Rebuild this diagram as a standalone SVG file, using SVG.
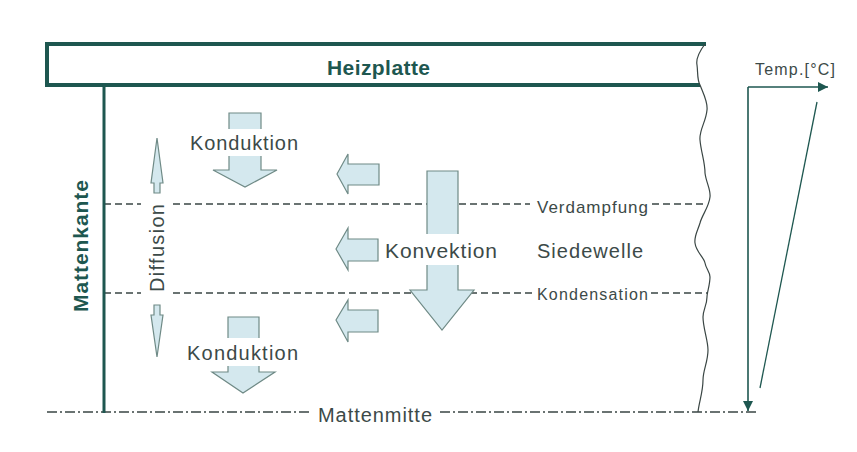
<svg xmlns="http://www.w3.org/2000/svg" width="857" height="452" viewBox="0 0 857 452">
<defs>
<style>
.t{font-family:"Liberation Sans",Arial,sans-serif;fill:#3c4a48}
.b{font-family:"Liberation Sans",Arial,sans-serif;font-weight:bold;fill:#1e5750}
.arr{fill:#d4e8ee;stroke:#6f8a86;stroke-width:1.2;stroke-linejoin:miter}
.dash{stroke:#3a4644;stroke-width:1.4;stroke-dasharray:7 4;fill:none}
.dd{stroke:#3a4644;stroke-width:1.4;stroke-dasharray:10 3 2 3;fill:none}
.ax{stroke:#1e5750;stroke-width:1.6;fill:none}
</style>
<marker id="ah" viewBox="0 0 10 10" refX="10" refY="5" markerWidth="12" markerHeight="10" markerUnits="userSpaceOnUse" orient="auto"><path d="M0,0 L10,5 L0,10 Z" fill="#1e5750"/></marker>
</defs>
<rect width="857" height="452" fill="#ffffff"/>

<g id="heizplatte">
<path d="M706,44 H47 V85 H700" fill="none" stroke="#1e5750" stroke-width="4"/>
<text class="b" x="327" y="75" font-size="21" textLength="103">Heizplatte</text>
</g>

<g id="mattenrand">
<path d="M705,44 C699,52 696,60 697,65 C698,72 697,80 700,85 C704,95 708,102 707,110 C706,122 699,130 700,140 C701,152 705,162 705,173 C706,182 711,190 710,197 C709,207 702,215 700,223 C698,230 694,236 695,243 C696,252 704,257 705,263 C706,269 710,272 710,277 C710,285 707,292 707,297 C707,305 703,310 703,317 C703,328 708,340 708,350 C708,362 703,370 703,380 C703,392 699,402 698,412" fill="none" stroke="#3a4644" stroke-width="1.2"/>
</g>

<g id="connectors">
<path class="dash" d="M104,204 H141 M173,204 H530 M652,204 H706"/>
<path class="dash" d="M104,293 H141 M173,293 H533 M651,293 H708"/>
<path class="dd" d="M47,412 H312 M440,412 H757"/>
<line class="ax" x1="748" y1="87" x2="748" y2="411" marker-end="url(#ah)"/>
<line class="ax" x1="748" y1="87" x2="828" y2="87" marker-end="url(#ah)"/>
<line x1="817" y1="102" x2="760" y2="388" stroke="#1e5750" stroke-width="1.3"/>
</g>

<g id="mattenkante">
<line x1="104" y1="84" x2="104" y2="413" stroke="#1e5750" stroke-width="3"/>
<text class="b" transform="translate(88,246) rotate(-90)" text-anchor="middle" font-size="21" textLength="132">Mattenkante</text>
</g>

<g id="konduktion-oben">
<path class="arr" d="M229,113 H261 V170 H277 L245,187 L213,170 H229 Z"/>
<rect x="186" y="129" width="116" height="27" fill="#ffffff"/>
<text class="t" x="190" y="150" font-size="20" textLength="108">Konduktion</text>
</g>

<g id="konduktion-unten">
<path class="arr" d="M228,317 H259 V372 H275 L243,393 L212,372 H228 Z"/>
<rect x="184" y="338" width="118" height="28" fill="#ffffff"/>
<text class="t" x="187" y="360" font-size="20" textLength="111">Konduktion</text>
</g>

<g id="diffusion">
<path class="arr" d="M157,138 L163,183 H160 V193 H154 V183 H151 Z"/>
<path class="arr" d="M157,357 L163,315 H160 V305 H154 V315 H151 Z"/>
<text class="t" transform="translate(164,248) rotate(-90)" text-anchor="middle" font-size="20" textLength="88">Diffusion</text>
</g>

<g id="pfeil-links-1">
<path class="arr" d="M337,174 L348,154 V164 H379 V185 H348 V194 Z"/>
</g>
<g id="pfeil-links-2">
<path class="arr" d="M336,249 L348,228 V239 H378 V261 H348 V270 Z"/>
</g>
<g id="pfeil-links-3">
<path class="arr" d="M336,320 L348,300 V310 H378 V332 H348 V342 Z"/>
</g>

<g id="konvektion">
<path class="arr" d="M427,171 H458 V290 H474 L442,330 L410,290 H427 Z"/>
<rect x="382" y="234" width="118" height="31" fill="#ffffff"/>
<text class="t" x="385" y="258" font-size="21" textLength="112">Konvektion</text>
</g>

<g id="labels">
<text class="t" x="537" y="258" font-size="20" textLength="106">Siedewelle</text>
<text class="t" x="537" y="213" font-size="17" textLength="111">Verdampfung</text>
<text class="t" x="537" y="300" font-size="16" textLength="111">Kondensation</text>
<text class="t" x="318" y="422" font-size="20" textLength="114">Mattenmitte</text>
<text class="t" x="755" y="75" font-size="16" textLength="80">Temp.[°C]</text>
</g>
</svg>
